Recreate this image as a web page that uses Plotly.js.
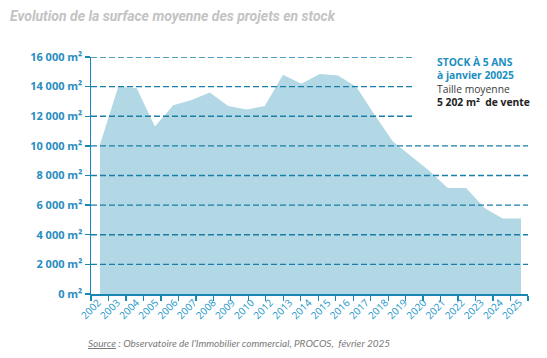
<!DOCTYPE html>
<html><head><meta charset="utf-8">
<script src="https://cdn.plot.ly/plotly-3.0.1.min.js"></script>
<style>html,body{margin:0;padding:0;background:#fff}#chart{width:547px;height:358px}</style>
</head><body><div id="chart"></div>
<script>
// Data points (the series contains 2011, the printed labels skip it)
const years = [2002,2003,2004,2005,2006,2007,2008,2009,2010,2011,2012,2013,2014,2015,2016,2017,2018,2019,2020,2021,2022,2023,2024,2025];
const surfaces = [10100,14000,13900,11300,12750,13100,13600,12700,12450,12700,14800,14200,14850,14750,14000,12100,10300,9300,8300,7150,7150,5800,5100,5100];
// Printed category labels
const tickLabels = ['2002','2003','2004','2005','2006','2007','2008','2009','2010','2012','2013','2014','2015','2016','2017','2018','2019','2020','2021','2022','2023','2024','2025'];
// Y axis ticks
const yTicks = [0,2000,4000,6000,8000,10000,12000,14000,16000];
const shortGridTicks = [12000,14000,16000];

function fmt(v){
  if (v >= 1000) return Math.floor(v/1000) + ' ' + String(v % 1000).padStart(3,'0');
  return String(v);
}
const yTickText = yTicks.map(v => fmt(v) + ' m²');

const teal = '#1a86b3';
const gridColor = '#1a7ea8';
const xRange = [2001.51, 2025.38];
const xTickCount = 25;

const area = {
  type: 'scatter', x: years, y: surfaces, xaxis: 'x', yaxis: 'y',
  mode: 'lines', fill: 'tozeroy', fillcolor: '#b2d8e5',
  line: {width: 0, color: '#b2d8e5'}, hoverinfo: 'skip'
};
// carrier trace so the label axis is drawn
const labelCarrier = {
  type: 'scatter', x: tickLabels.map((_, i) => i), y: tickLabels.map(() => null),
  xaxis: 'x2', yaxis: 'y', mode: 'markers', hoverinfo: 'skip', showlegend: false
};

const shapes = yTicks.filter(v => v > 0).map(v => ({
  type: 'line', xref: 'paper', yref: 'y', x0: 0,
  x1: shortGridTicks.includes(v) ? 0.741 : 1,
  y0: v, y1: v, layer: 'above',
  line: {color: gridColor, width: 1.3, dash: '6px,3px'}
}));

const layout = {
  width: 547, height: 358,
  margin: {l: 91, r: 19, t: 57, b: 64},
  paper_bgcolor: '#ffffff', plot_bgcolor: '#ffffff',
  showlegend: false,
  title: {
    text: '<b><i>Evolution de la surface moyenne des projets en stock</i></b>',
    x: 10/547, xanchor: 'left', xref: 'container',
    y: 1 - 16/358, yanchor: 'middle', yref: 'container',
    font: {family: 'Roboto, sans-serif', size: 14, color: '#c3c3c3'}
  },
  xaxis: {
    range: xRange, tickmode: 'linear', tick0: xRange[0],
    dtick: (xRange[1] - xRange[0]) / xTickCount,
    ticks: 'outside', ticklen: 5, tickwidth: 1.3, tickcolor: teal,
    showline: true, linecolor: teal, linewidth: 1.5,
    showticklabels: false, showgrid: false, zeroline: false, fixedrange: true
  },
  xaxis2: {
    overlaying: 'x', anchor: 'y', side: 'bottom', range: [-0.37, 22.46],
    tickmode: 'array', tickvals: tickLabels.map((_, i) => i), ticktext: tickLabels,
    tickangle: -45, ticks: '', showline: false, showgrid: false, zeroline: false,
    tickfont: {family: '"Open Sans", sans-serif', size: 10, color: '#2196c9'}
  },
  yaxis: {
    range: [0, 16000], tickmode: 'array', tickvals: yTicks, ticktext: yTickText,
    ticks: 'outside', ticklen: 5, tickwidth: 1.3, tickcolor: teal,
    showline: true, linecolor: teal, linewidth: 1.5,
    showgrid: false, zeroline: false,
    tickfont: {family: '"Open Sans", sans-serif', size: 11, color: '#2a8dc0', weight: 700}
  },
  shapes: shapes,
  annotations: [
    {
      xref: 'paper', yref: 'paper', x: (435-91)/437, y: (294-53)/237,
      xanchor: 'left', yanchor: 'top', align: 'left', showarrow: false,
      text: '<b>STOCK À 5 ANS</b><br><b>à janvier 20025</b><br><span style="color:#3a3a3a">Taille moyenne</span><br><b><span style="color:#222222">5 202 m²\u00a0 de vente</span></b>',
      font: {family: '"Open Sans", sans-serif', size: 10.3, color: '#1a8fc0'}
    },
    {
      xref: 'paper', yref: 'paper', x: (86-91)/437, y: (294-343)/237,
      xanchor: 'left', yanchor: 'middle', showarrow: false,
      text: '<i><u>Source</u> : Observatoire de l\u2019Immobilier commercial, PROCOS,\u00a0 février 2025</i>',
      font: {family: 'Lato, sans-serif', size: 10, color: '#7a7a7a'}
    }
  ]
};

Plotly.newPlot('chart', [area, labelCarrier], layout, {staticPlot: true, displayModeBar: false});
</script>
</body></html>
